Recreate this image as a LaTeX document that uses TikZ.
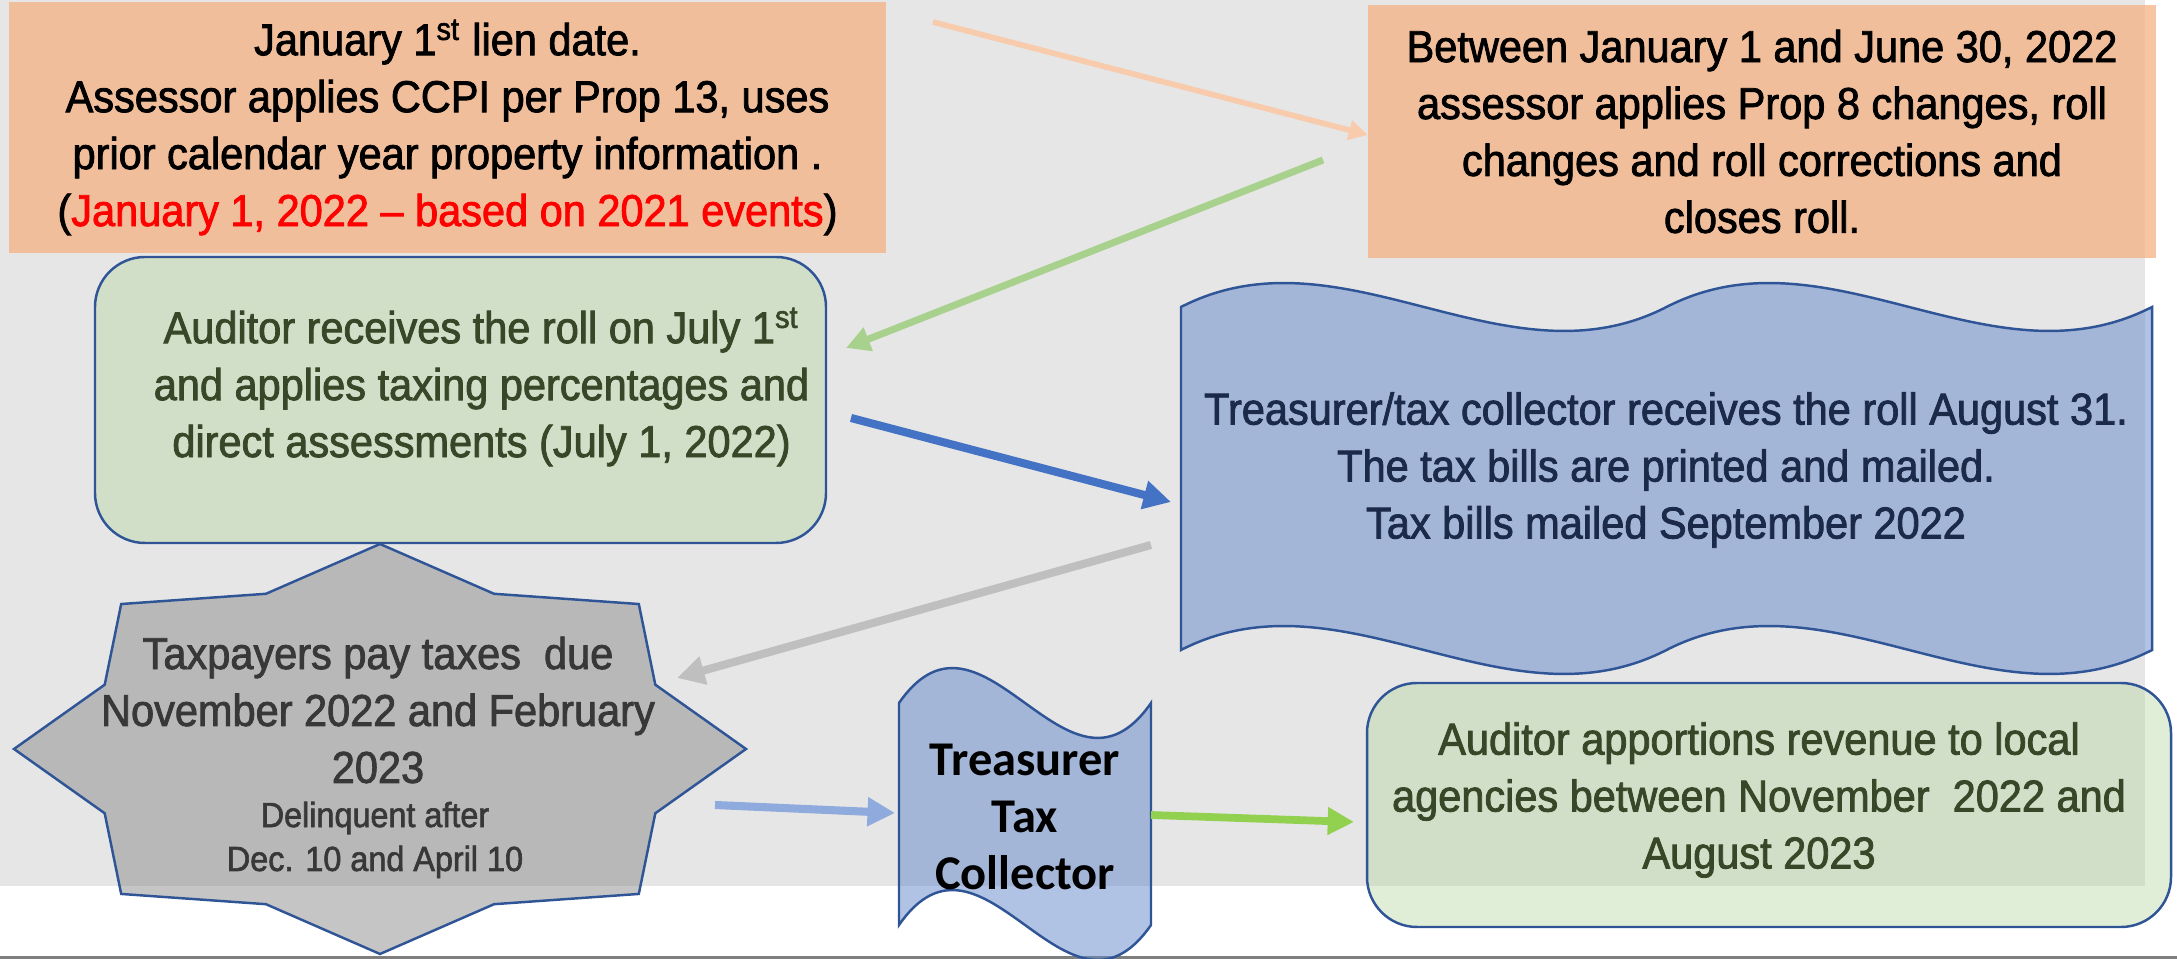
\documentclass[tikz,border=0pt]{standalone}
\usepackage{fontspec}
\setmainfont{Liberation Sans}[FakeStretch=0.93, FakeBold=1.8]
\newfontfamily\calibri{Carlito}
\usetikzlibrary{calc,arrows.meta}
\definecolor{bggray}{HTML}{E6E6E6}
\definecolor{rulegray}{HTML}{7F7F7F}
\definecolor{peach}{HTML}{F4B183}
\definecolor{leaf}{HTML}{B6D59F}
\definecolor{sky}{HTML}{6488CA}
\definecolor{ash}{HTML}{8C8C8C}
\definecolor{edgeblue}{HTML}{2F5597}
\definecolor{rolltext}{HTML}{374829}
\definecolor{billtext}{HTML}{1C2A4A}
\definecolor{paytext}{HTML}{383838}
\definecolor{peachline}{HTML}{F8CBAD}
\definecolor{greenline}{HTML}{A9D18E}
\definecolor{blueline}{HTML}{4472C4}
\definecolor{grayline}{HTML}{BFBFBF}
\definecolor{skyline}{HTML}{8FAADC}
\definecolor{limeline}{HTML}{92D050}
\tikzset{
  txt/.style={font=\fontsize{12.7}{16.2}\selectfont, align=center, inner sep=0pt},
  smalltxt/.style={font=\fontsize{9.9}{12.5}\selectfont, align=center, inner sep=0pt},
  ttctxt/.style={font=\calibri\bfseries\fontsize{13.8}{16.2}\selectfont, align=center, inner sep=0pt},
  assessbox/.style={txt, fill=peach, fill opacity=0.75, text opacity=1},
  auditbox/.style={draw=edgeblue, line width=0.7pt, fill=leaf, fill opacity=0.42, rounded corners=0.5cm},
  wave/.style={draw=edgeblue, line width=0.7pt, fill=sky, fill opacity=0.5},
  burst/.style={draw=edgeblue, line width=0.7pt, fill=ash, fill opacity=0.5},
  flow/.style={-{Triangle[length=0pt 3.4, width=0pt 3.4]}, line width=#1}
}

\begin{document}
\begin{tikzpicture}
  \useasboundingbox (0,0) rectangle (21.77,9.59);
  % backdrop and bottom rule
  \fill[bggray] (0,0.73) rectangle (21.45,9.59);
  \draw[rulegray, line width=0.03cm] (0,0.015) -- (21.77,0.015);

  % assessor boxes
  \node[assessbox, minimum width=8.77cm, minimum height=2.51cm] (lien) at (4.475,8.315)
    {January 1\textsuperscript{st} lien date.\\Assessor applies CCPI per Prop 13, uses\\prior calendar year property information .\\(\textcolor{red}{January 1, 2022 -- based on 2021 events})};
  \node[assessbox, minimum width=7.88cm, minimum height=2.53cm] (close) at (17.62,8.275)
    {Between January 1 and June 30, 2022\\assessor applies Prop 8 changes, roll\\changes and roll corrections and\\closes roll.};

  % auditor receives the roll
  \node[auditbox, minimum width=7.31cm, minimum height=2.86cm] (aud) at (4.605,5.59) {};
  \node[txt, text=rolltext] (audText) at ($(aud)+(0.21,0.13)$)
    {Auditor receives the roll on July 1\textsuperscript{st}\\and applies taxing percentages and\\direct assessments (July 1, 2022)};

  % treasurer double wave
  \draw[wave] (11.81,6.52) .. controls (13.43,7.35) and (15.05,5.69) .. (16.665,6.52)
    .. controls (18.28,7.35) and (19.90,5.69) .. (21.52,6.52) -- (21.52,3.09)
    .. controls (19.90,2.26) and (18.28,3.92) .. (16.665,3.09)
    .. controls (15.05,2.26) and (13.43,3.92) .. (11.81,3.09) -- cycle;
  \node[txt, text=billtext] (bills) at (16.66,4.89)
    {Treasurer/tax collector receives the roll August 31.\\The tax bills are printed and mailed.\\Tax bills mailed September 2022};

  % taxpayers star
  \begin{scope}[shift={(3.80,2.10)}]
    \draw[burst] (0:3.66 and 2.05) \foreach \a in {45,90,...,315} { -- ({\a-22.5}:2.98 and 1.68) -- (\a:3.66 and 2.05) }
      -- (337.5:2.98 and 1.68) -- cycle;
  \end{scope}
  \node[txt, text=paytext] (pay) at (3.78,2.49) {Taxpayers pay taxes~ due\\November 2022 and February\\2023};
  \node[smalltxt, text=paytext] (late) at (3.75,1.19) {Delinquent after\\Dec. 10 and April 10};

  % treasurer tax collector
  \draw[wave] (8.99,2.56) .. controls (9.83,3.77) and (10.67,1.35) .. (11.51,2.56) -- (11.51,0.34)
    .. controls (10.67,-0.87) and (9.83,1.55) .. (8.99,0.34) -- cycle;
  \node[ttctxt] (ttc) at (10.25,1.42) {Treasurer\\Tax\\Collector};

  % auditor apportions revenue
  \node[auditbox, minimum width=8.04cm, minimum height=2.44cm] (apport) at (17.69,1.54) {};
  \node[txt, text=rolltext] (apportText) at ($(apport)+(-0.10,0.05)$)
    {Auditor apportions revenue to local\\agencies between November~ 2022 and\\August 2023};

  % arrow ends
  \coordinate (lienOut) at (9.33,9.37);
  \coordinate (closeIn) at (13.68,8.24);
  \coordinate (closeOut) at (13.23,7.99);
  \coordinate (audIn) at (8.46,6.11);
  \coordinate (audOut) at (8.51,5.41);
  \coordinate (billsIn) at (11.71,4.57);
  \coordinate (billsOut) at (11.51,4.14);
  \coordinate (payIn) at (6.77,2.81);
  \coordinate (payOut) at (7.15,1.54);
  \coordinate (ttcIn) at (8.95,1.46);
  \coordinate (ttcOut) at (11.51,1.44);
  \coordinate (apportIn) at (13.54,1.37);

  \draw[flow=1.6pt, peachline] (lienOut) -- (closeIn);
  \draw[flow=2pt, greenline] (closeOut) -- (audIn);
  \draw[flow=2.3pt, blueline] (audOut) -- (billsIn);
  \draw[flow=2.3pt, grayline] (billsOut) -- (payIn);
  \draw[flow=2.3pt, skyline] (payOut) -- (ttcIn);
  \draw[flow=2.2pt, limeline] (ttcOut) -- (apportIn);
\end{tikzpicture}
\end{document}
